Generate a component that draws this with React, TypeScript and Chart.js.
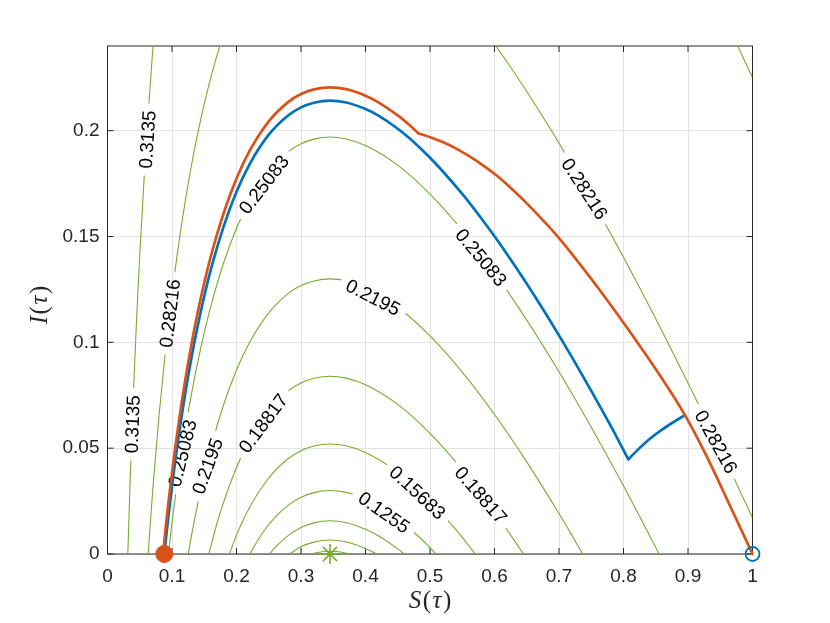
import React, { useEffect, useRef } from 'react';
import { Chart, registerables } from 'chart.js';
Chart.register(...registerables);

type Pt = [number, number];

// level curves, [S, I] pairs (inner to outer)
const contour1: Pt[] = [[0.316, 0], [0.325, 0.0007], [0.335, 0.0012], [0.345, 0.0013], [0.355, 0.0012], [0.365, 0.0007], [0.376, 0]];
const contour2: Pt[] = [[0.282, 0], [0.3, 0.0034], [0.32, 0.0056], [0.345, 0.0066], [0.37, 0.0057], [0.4, 0.0026], [0.417, 0]];
const contour3: Pt[] = [[0.251, 0], [0.26, 0.0031], [0.28, 0.0087], [0.3, 0.0125], [0.32, 0.0147], [0.345, 0.0157], [0.37, 0.0148], [0.4, 0.0117], [0.42, 0.0086], [0.45, 0.0024], [0.46, 0]];
const contour4: Pt[] = [[0.2205, 0], [0.24, 0.0098], [0.26, 0.0174], [0.28, 0.023], [0.3, 0.0268], [0.32, 0.029], [0.345, 0.03], [0.37, 0.0291], [0.4, 0.026], [0.42, 0.0229], [0.45, 0.0167], [0.47, 0.0117], [0.5, 0.003], [0.509, 0]];
const contour5: Pt[] = [[0.189, 0], [0.2, 0.0089], [0.22, 0.0218], [0.25, 0.0359], [0.28, 0.045], [0.3, 0.0488], [0.32, 0.051], [0.345, 0.052], [0.37, 0.0511], [0.4, 0.048], [0.45, 0.0387], [0.5, 0.025], [0.52, 0.0185], [0.55, 0.0079], [0.57, 0]];
const contour6: Pt[] = [[0.157, 0], [0.17, 0.0148], [0.18, 0.0245], [0.2, 0.0409], [0.22, 0.0538], [0.25, 0.0679], [0.28, 0.077], [0.3, 0.0808], [0.32, 0.083], [0.345, 0.084], [0.37, 0.0831], [0.4, 0.08], [0.45, 0.0707], [0.5, 0.057], [0.55, 0.0399], [0.6, 0.0199], [0.62, 0.0112], [0.645, 0]];
const contour7: Pt[] = [[0.1253, 0], [0.13, 0.0083], [0.14, 0.0238], [0.15, 0.0376], [0.16, 0.0499], [0.18, 0.0705], [0.2, 0.0869], [0.22, 0.0998], [0.25, 0.1139], [0.28, 0.123], [0.3, 0.1268], [0.32, 0.129], [0.345, 0.13], [0.37, 0.1291], [0.4, 0.126], [0.45, 0.1167], [0.5, 0.103], [0.55, 0.0859], [0.6, 0.0659], [0.65, 0.0435], [0.7, 0.0191], [0.72, 0.0088], [0.7366, 0]];
const contour8: Pt[] = [[0.0944, 0], [0.1, 0.0148], [0.11, 0.0376], [0.12, 0.0577], [0.13, 0.0753], [0.14, 0.0908], [0.15, 0.1046], [0.16, 0.1169], [0.18, 0.1375], [0.2, 0.1539], [0.22, 0.1668], [0.25, 0.1809], [0.28, 0.19], [0.3, 0.1938], [0.32, 0.196], [0.345, 0.197], [0.37, 0.1961], [0.4, 0.193], [0.45, 0.1837], [0.5, 0.17], [0.55, 0.1529], [0.6, 0.1329], [0.65, 0.1105], [0.7, 0.0861], [0.75, 0.0599], [0.8, 0.0322], [0.82, 0.0207], [0.85, 0.0031], [0.8551, 0]];
const contour9Left: Pt[] = [[0.0631, 0], [0.07, 0.0297], [0.08, 0.0658], [0.09, 0.0964], [0.1, 0.1228], [0.11, 0.1456], [0.12, 0.1657], [0.13, 0.1833], [0.14, 0.1988], [0.15, 0.2126], [0.16, 0.2249], [0.17, 0.2358], [0.18, 0.2455]];
const contour9Right: Pt[] = [[0.58, 0.2492], [0.6, 0.2409], [0.62, 0.2322], [0.65, 0.2185], [0.68, 0.2041], [0.7, 0.1941], [0.72, 0.1838], [0.75, 0.1679], [0.78, 0.1514], [0.8, 0.1402], [0.82, 0.1287], [0.85, 0.1111], [0.88, 0.093], [0.9, 0.0808], [0.92, 0.0684], [0.95, 0.0494], [0.97, 0.0366], [1.0, 0.0171]];
const contour10Left: Pt[] = [[0.0315, 0], [0.035, 0.0336], [0.04, 0.0746], [0.045, 0.1103], [0.05, 0.1416], [0.06, 0.1945], [0.07, 0.2377], [0.08, 0.2738]];
const contour10Right: Pt[] = [[0.95, 0.2574], [0.97, 0.2446], [1.0, 0.2251]];

// trajectories
const blueDown: Pt[] = [[0.0882, 0], [0.09, 0.0056], [0.1, 0.032], [0.11, 0.0548], [0.12, 0.0749], [0.13, 0.0925], [0.14, 0.108], [0.15, 0.1218], [0.16, 0.1341], [0.18, 0.1547], [0.2, 0.1711], [0.22, 0.184], [0.25, 0.1981], [0.28, 0.2072], [0.3, 0.211], [0.32, 0.2132], [0.345, 0.2142], [0.37, 0.2133], [0.4, 0.2102], [0.42, 0.2071], [0.45, 0.2009], [0.47, 0.1959], [0.5, 0.1872], [0.52, 0.1807], [0.55, 0.1701], [0.58, 0.1584], [0.6, 0.1501], [0.62, 0.1414], [0.65, 0.1277], [0.68, 0.1133], [0.7, 0.1033], [0.72, 0.093], [0.75, 0.0771], [0.78, 0.0606], [0.8075, 0.0447]];
const blueUp: Pt[] = [[0.8075, 0.0447], [0.822, 0.0492], [0.84, 0.0542], [0.858, 0.0584], [0.877, 0.0622], [0.8953, 0.0656]];
const orangeUp: Pt[] = [[0.0862, 0], [0.09, 0.0119], [0.1, 0.0383], [0.11, 0.0611], [0.12, 0.0812], [0.13, 0.0988], [0.14, 0.1143], [0.15, 0.1281], [0.16, 0.1404], [0.18, 0.161], [0.2, 0.1774], [0.22, 0.1903], [0.25, 0.2044], [0.28, 0.2135], [0.3, 0.2173], [0.32, 0.2195], [0.345, 0.2205], [0.37, 0.2196], [0.4, 0.2165], [0.42, 0.2134], [0.45, 0.2072], [0.47, 0.2022], [0.482, 0.1987]];
const orangeDown: Pt[] = [[0.482, 0.1987], [0.5023, 0.1967], [0.5206, 0.1945], [0.5414, 0.1914], [0.562, 0.1877], [0.5826, 0.1835], [0.6034, 0.1788], [0.624, 0.1733], [0.6447, 0.1673], [0.6964, 0.1505], [0.7636, 0.1245], [0.805, 0.1071], [0.8566, 0.0843], [0.8953, 0.0656], [0.929, 0.0461], [0.9651, 0.0228], [1.0, 0]];

const startPoint: Pt = [0.088, 0];
const endPoint: Pt = [1, 0];
const equilibrium: Pt = [0.345, 0];

// contour label texts and where they sit (data coords, degrees)
const contourLabels = [
  { level: 10, text: '0.3135', s: 0.062, i: 0.1958, angle: -86 },
  { level: 10, text: '0.3135', s: 0.0388, i: 0.0613, angle: -88 },
  { level: 9, text: '0.28216', s: 0.0969, i: 0.1137, angle: -83 },
  { level: 9, text: '0.28216', s: 0.7395, i: 0.1725, angle: 57 },
  { level: 9, text: '0.28216', s: 0.9434, i: 0.053, angle: 61 },
  { level: 8, text: '0.25083', s: 0.2426, i: 0.1745, angle: -52 },
  { level: 8, text: '0.25083', s: 0.1163, i: 0.0476, angle: -76 },
  { level: 8, text: '0.25083', s: 0.5791, i: 0.1401, angle: 50 },
  { level: 7, text: '0.2195', s: 0.155, i: 0.0415, angle: -70 },
  { level: 7, text: '0.2195', s: 0.4116, i: 0.1212, angle: 27 },
  { level: 6, text: '0.18817', s: 0.2416, i: 0.0617, angle: -53 },
  { level: 6, text: '0.18817', s: 0.5788, i: 0.0278, angle: 49 },
  { level: 5, text: '0.15683', s: 0.4806, i: 0.029, angle: 43 },
  { level: 4, text: '0.1255', s: 0.4287, i: 0.0196, angle: 35 },
];

const BLUE = '#0072BD';
const ORANGE = '#D95319';
const GREEN = '#77AC30';
const AXIS = '#262626';
const SANS = '"Liberation Sans", Arial, Helvetica, sans-serif';
const SERIF = '"Liberation Serif", "Times New Roman", serif';
const LABEL_FONT = `19px ${SANS}`;
const FIRST_CONTOUR = 7;

const toXY = (pts: Pt[]) => pts.map(([x, y]) => ({ x, y }));

const curve = (pts: Pt[], color: string, width: number, clip: number, level = 0) => ({
  data: toXY(pts),
  showLine: true,
  borderColor: color,
  backgroundColor: color,
  borderWidth: width,
  pointRadius: 0,
  pointHoverRadius: 0,
  cubicInterpolationMode: 'monotone',
  borderCapStyle: 'round',
  borderJoinStyle: 'round',
  clip,
  level,
});

function drawMath(ctx: CanvasRenderingContext2D, parts: [string, boolean][], cx: number, cy: number, size: number) {
  const gap = 1.5;
  const fonts = parts.map(([, it]) => `${it ? 'italic ' : ''}${size}px ${SERIF}`);
  const widths = parts.map(([t], k) => {
    ctx.font = fonts[k];
    return ctx.measureText(t).width;
  });
  let x = cx - (widths.reduce((a, b) => a + b, 0) + gap * (parts.length - 1)) / 2;
  ctx.textAlign = 'left';
  ctx.textBaseline = 'middle';
  ctx.fillStyle = AXIS;
  parts.forEach(([t], k) => {
    ctx.font = fonts[k];
    ctx.fillText(t, x, cy);
    x += widths[k] + gap;
  });
}

const contourPlugin = {
  id: 'contourDecor',
  beforeDatasetsDraw(chart: any) {
    const { ctx, chartArea: a, scales } = chart;
    ctx.save();
    ctx.strokeStyle = AXIS;
    ctx.lineWidth = 1;
    ctx.strokeRect(a.left, a.top, a.right - a.left, a.bottom - a.top);
    ctx.beginPath();
    scales.x.ticks.forEach((t: any) => {
      const px = scales.x.getPixelForValue(t.value);
      ctx.moveTo(px, a.bottom); ctx.lineTo(px, a.bottom - 6);
      ctx.moveTo(px, a.top); ctx.lineTo(px, a.top + 6);
    });
    scales.y.ticks.forEach((t: any) => {
      const py = scales.y.getPixelForValue(t.value);
      ctx.moveTo(a.left, py); ctx.lineTo(a.left + 6, py);
      ctx.moveTo(a.right, py); ctx.lineTo(a.right - 6, py);
    });
    ctx.stroke();
    ctx.restore();
  },
  beforeDatasetDraw(chart: any, args: any) {
    if (args.index < FIRST_CONTOUR) return;
    const level = chart.data.datasets[args.index].level;
    const { ctx, scales } = chart;
    ctx.save();
    ctx.font = LABEL_FONT;
    ctx.beginPath();
    ctx.rect(0, 0, chart.width, chart.height);
    contourLabels.filter((l) => l.level === level).forEach((l) => {
      const px = scales.x.getPixelForValue(l.s);
      const py = scales.y.getPixelForValue(l.i);
      const hw = ctx.measureText(l.text).width / 2 + 7;
      const hh = 11;
      const r = (l.angle * Math.PI) / 180;
      const c = Math.cos(r);
      const s = Math.sin(r);
      const corners = [[-hw, -hh], [hw, -hh], [hw, hh], [-hw, hh]].map(([u, v]) => [px + u * c - v * s, py + u * s + v * c]);
      ctx.moveTo(corners[0][0], corners[0][1]);
      corners.slice(1).forEach(([x, y]) => ctx.lineTo(x, y));
      ctx.closePath();
    });
    ctx.clip('evenodd');
  },
  afterDatasetDraw(chart: any, args: any) {
    if (args.index < FIRST_CONTOUR) return;
    const { ctx, scales } = chart;
    ctx.restore();
    if (args.index !== FIRST_CONTOUR) return;
    ctx.save();
    ctx.font = LABEL_FONT;
    ctx.fillStyle = '#000';
    ctx.textAlign = 'center';
    ctx.textBaseline = 'middle';
    contourLabels.forEach((l) => {
      ctx.save();
      ctx.translate(scales.x.getPixelForValue(l.s), scales.y.getPixelForValue(l.i));
      ctx.rotate((l.angle * Math.PI) / 180);
      ctx.fillText(l.text, 0, 1);
      ctx.restore();
    });
    ctx.restore();
  },
  afterDraw(chart: any) {
    const ctx = chart.ctx;
    ctx.save();
    drawMath(ctx, [['S', true], ['(', false], ['τ', true], [')', false]], 430, 601, 25);
    ctx.translate(40, 305);
    ctx.rotate(-Math.PI / 2);
    drawMath(ctx, [['I', true], ['(', false], ['τ', true], [')', false]], 0, 0, 25);
    ctx.restore();
  },
};

const App: React.FC = () => {
  const canvasRef = useRef<HTMLCanvasElement>(null);
  const chartRef = useRef<Chart | null>(null);

  useEffect(() => {
    if (!canvasRef.current) return;
    const ctx = canvasRef.current.getContext('2d');
    if (!ctx) return;
    if (chartRef.current) chartRef.current.destroy();

    const contours: [Pt[], number][] = [
      [contour1, 1], [contour2, 2], [contour3, 3], [contour4, 4], [contour5, 5],
      [contour6, 6], [contour7, 7], [contour8, 8], [contour9Left, 9], [contour9Right, 9],
      [contour10Left, 10], [contour10Right, 10],
    ];

    const datasets: any[] = [
      {
        data: toXY([startPoint]), pointStyle: 'circle', pointRadius: 8.5, borderWidth: 1,
        backgroundColor: ORANGE, borderColor: ORANGE, clip: false,
      },
      {
        data: toXY([endPoint]), pointStyle: 'circle', pointRadius: 7, borderWidth: 1.8,
        backgroundColor: 'rgba(0,0,0,0)', borderColor: BLUE, clip: false,
      },
      {
        data: toXY([equilibrium]), pointStyle: 'star', pointRadius: 10, borderWidth: 1.6,
        backgroundColor: GREEN, borderColor: GREEN, clip: false,
      },
      curve(orangeUp, ORANGE, 2.7, 4),
      curve(orangeDown, ORANGE, 2.7, 4),
      curve(blueDown, BLUE, 2.7, 4),
      curve(blueUp, BLUE, 2.7, 4),
      ...contours.map(([pts, level]) => curve(pts, GREEN, 1.1, 0, level)),
    ];

    chartRef.current = new Chart(ctx, {
      type: 'scatter',
      data: { datasets },
      options: {
        animation: false,
        responsive: true,
        maintainAspectRatio: false,
        events: [],
        layout: { padding: { left: 0, top: 46, right: 77.5, bottom: 0 } },
        plugins: { legend: { display: false }, tooltip: { enabled: false } },
        scales: {
          x: {
            type: 'linear',
            min: 0,
            max: 1,
            border: { display: false },
            grid: { color: '#e3e3e3', lineWidth: 1, drawTicks: false },
            ticks: {
              stepSize: 0.1,
              padding: 11,
              color: AXIS,
              font: { family: SANS, size: 19 },
              callback: (v: any) => String(Math.round(Number(v) * 100) / 100),
            },
            afterFit: (s: any) => { s.height = 69; },
          },
          y: {
            type: 'linear',
            min: 0,
            max: 0.24,
            border: { display: false },
            grid: { color: '#e3e3e3', lineWidth: 1, drawTicks: false },
            ticks: {
              stepSize: 0.05,
              includeBounds: false,
              padding: 8,
              color: AXIS,
              font: { family: SANS, size: 19 },
              callback: (v: any) => String(Math.round(Number(v) * 100) / 100),
            },
            afterFit: (s: any) => { s.width = 107.5; },
          },
        },
      } as any,
      plugins: [contourPlugin as any],
    });

    return () => {
      if (chartRef.current) {
        chartRef.current.destroy();
        chartRef.current = null;
      }
    };
  }, []);

  return (
    <div style={{ position: 'absolute', left: 0, top: 0, width: 830, height: 623, background: '#fff' }}>
      <canvas ref={canvasRef}></canvas>
    </div>
  );
};

export default App;
